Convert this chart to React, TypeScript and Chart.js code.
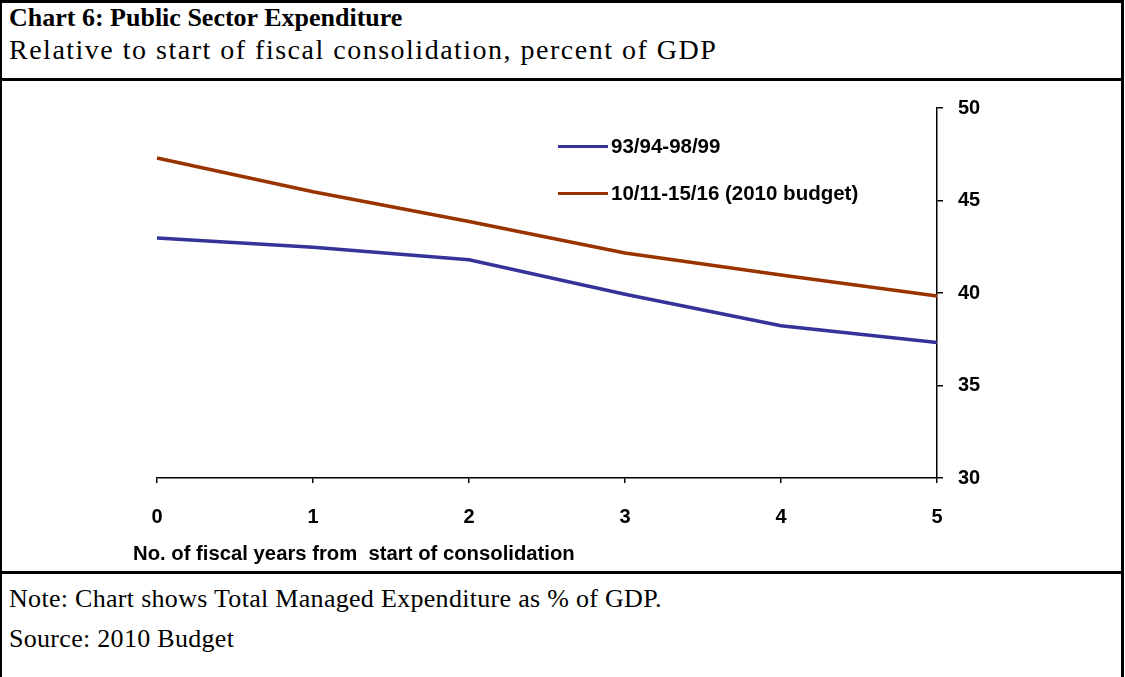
import React, { useEffect, useRef } from "react";
import { Chart, registerables } from "chart.js";

Chart.register(...registerables);

const categories = ["0", "1", "2", "3", "4", "5"];
const series1Label = "93/94-98/99";
const series1 = [42.97, 42.47, 41.8, 39.93, 38.23, 37.33];
const series2Label = "10/11-15/16 (2010 budget)";
const series2 = [47.3, 45.47, 43.86, 42.16, 40.97, 39.84];
const yTicks = [30, 35, 40, 45, 50];

const BLUE = "#333399";
const RED = "#993300";

const CANVAS_TOP = 81;
const CANVAS_W = 1125;
const CANVAS_H = 490;

const sansFont = "'Liberation Sans', Arial, sans-serif";

function LineChart() {
  const ref = useRef<HTMLCanvasElement | null>(null);
  useEffect(() => {
    if (!ref.current) return;
    const chart = new Chart(ref.current, {
      type: "line",
      data: {
        labels: categories,
        datasets: [
          {
            label: series1Label,
            data: series1,
            borderColor: BLUE,
            backgroundColor: BLUE,
            borderWidth: 3.5,
            pointRadius: 0,
            tension: 0,
          },
          {
            label: series2Label,
            data: series2,
            borderColor: RED,
            backgroundColor: RED,
            borderWidth: 3.5,
            pointRadius: 0,
            tension: 0,
          },
        ],
      },
      options: {
        animation: false,
        responsive: false,
        maintainAspectRatio: false,
        events: [],
        layout: {
          padding: {
            left: 157,
            right: CANVAS_W - 937 - 70,
            top: 106 - CANVAS_TOP,
            bottom: CANVAS_H - (478 - CANVAS_TOP) - 60,
          },
        },
        plugins: {
          legend: { display: false },
          tooltip: { enabled: false },
          title: { display: false },
        },
        scales: {
          x: {
            type: "category",
            offset: false,
            grid: {
              display: true,
              drawOnChartArea: false,
              drawTicks: true,
              tickLength: 5,
              color: "#000000",
              lineWidth: 1.5,
            },
            border: { display: true, color: "#000000", width: 1.5 },
            ticks: {
              color: "#000000",
              padding: 22,
              maxRotation: 0,
              autoSkip: false,
              font: { family: sansFont, size: 20, weight: "bold" },
            },
            afterFit: (s: any) => {
              s.height = 60;
            },
          },
          y: {
            position: "right",
            min: 30,
            max: 50,
            afterBuildTicks: (s: any) => {
              s.ticks = yTicks.map((v) => ({ value: v }));
            },
            grid: {
              display: true,
              drawOnChartArea: false,
              drawTicks: true,
              tickLength: 6,
              color: "#000000",
              lineWidth: 1.5,
            },
            border: { display: true, color: "#000000", width: 1.5 },
            ticks: {
              color: "#000000",
              padding: 15,
              font: { family: sansFont, size: 20, weight: "bold" },
            },
            afterFit: (s: any) => {
              s.width = 70;
            },
          },
        },
      },
    });
    return () => chart.destroy();
  }, []);
  return (
    <canvas
      ref={ref}
      width={CANVAS_W}
      height={CANVAS_H}
      style={{ position: "absolute", left: 0, top: CANVAS_TOP, width: CANVAS_W, height: CANVAS_H }}
    />
  );
}

const serif = "'Liberation Serif', 'Times New Roman', serif";
const sans = sansFont;

export default function App() {
  useEffect(() => {
    document.body.style.margin = "0";
  }, []);
  return (
    <div
      style={{
        position: "absolute",
        left: 0,
        top: 0,
        width: 1125,
        height: 677,
        background: "#ffffff",
        overflow: "hidden",
      }}
    >
      {/* borders */}
      <div style={{ position: "absolute", left: 0, top: 0, width: 2, height: 677, background: "#000" }} />
      <div style={{ position: "absolute", left: 1121, top: 0, width: 3, height: 677, background: "#000" }} />
      <div style={{ position: "absolute", left: 0, top: 0, width: 1124, height: 3, background: "#000" }} />
      <div style={{ position: "absolute", left: 0, top: 78, width: 1124, height: 3, background: "#000" }} />
      <div style={{ position: "absolute", left: 0, top: 571, width: 1124, height: 3, background: "#000" }} />

      <div
        style={{
          position: "absolute",
          left: 9,
          top: 2,
          fontFamily: serif,
          fontWeight: "bold",
          fontSize: 26,
          lineHeight: "32px",
          color: "#000",
          whiteSpace: "nowrap",
        }}
      >
        Chart 6: Public Sector Expenditure
      </div>
      <div
        style={{
          position: "absolute",
          left: 9,
          top: 34,
          fontFamily: serif,
          fontSize: 28,
          lineHeight: "32px",
          letterSpacing: "1.5px",
          color: "#000",
          whiteSpace: "nowrap",
        }}
      >
        Relative to start of fiscal consolidation, percent of GDP
      </div>

      <LineChart />

      {/* legend */}
      <div style={{ position: "absolute", left: 558, top: 145, width: 50, height: 3, background: BLUE }} />
      <div
        style={{
          position: "absolute",
          left: 611,
          top: 134,
          fontFamily: sans,
          fontWeight: "bold",
          fontSize: 20.5,
          lineHeight: "24px",
          color: "#000",
          whiteSpace: "nowrap",
        }}
      >
        {series1Label}
      </div>
      <div style={{ position: "absolute", left: 558, top: 192, width: 50, height: 3, background: RED }} />
      <div
        style={{
          position: "absolute",
          left: 611,
          top: 181,
          fontFamily: sans,
          fontWeight: "bold",
          fontSize: 20.5,
          lineHeight: "24px",
          color: "#000",
          whiteSpace: "nowrap",
        }}
      >
        {series2Label}
      </div>

      {/* x axis title */}
      <div
        style={{
          position: "absolute",
          left: 133,
          top: 541,
          fontFamily: sans,
          fontWeight: "bold",
          fontSize: 20.3,
          lineHeight: "24px",
          color: "#000",
          whiteSpace: "pre",
        }}
      >
        {"No. of fiscal years from  start of consolidation"}
      </div>

      {/* notes */}
      <div
        style={{
          position: "absolute",
          left: 9,
          top: 584,
          fontFamily: serif,
          fontSize: 26,
          lineHeight: "30px",
          letterSpacing: "0.3px",
          color: "#000",
          whiteSpace: "nowrap",
        }}
      >
        Note: Chart shows Total Managed Expenditure as % of GDP.
      </div>
      <div
        style={{
          position: "absolute",
          left: 9,
          top: 624,
          fontFamily: serif,
          fontSize: 26,
          lineHeight: "30px",
          letterSpacing: "0.3px",
          color: "#000",
          whiteSpace: "nowrap",
        }}
      >
        Source: 2010 Budget
      </div>
    </div>
  );
}
